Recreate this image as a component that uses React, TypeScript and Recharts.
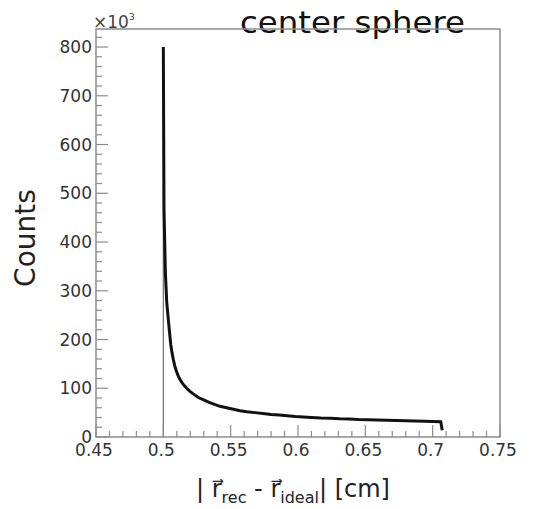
import { LineChart, Line, XAxis, YAxis, ReferenceArea } from 'recharts';

document.body.style.margin = '0';

// bin centres [cm] and counts (x10^3)
const binR = [
  0.5, 0.5005, 0.5015, 0.5025, 0.5035, 0.5045, 0.5055, 0.5065, 0.5075, 0.5085,
  0.5095, 0.5105, 0.512, 0.514, 0.516, 0.518, 0.52, 0.523, 0.526, 0.53,
  0.534, 0.538, 0.542, 0.547, 0.552, 0.557, 0.562, 0.568, 0.574, 0.58,
  0.586, 0.592, 0.598, 0.604, 0.61, 0.617, 0.624, 0.631, 0.638, 0.645,
  0.652, 0.659, 0.666, 0.673, 0.68, 0.687, 0.694, 0.7, 0.706, 0.7071,
];
const counts = [
  800, 467, 339, 277, 247, 218, 190, 172, 158, 146,
  137, 129, 120, 111, 104, 98, 93, 87, 81, 76,
  71, 67, 63, 60, 57, 54, 52, 50, 48, 46,
  45, 43.5, 42, 41, 40, 39, 38.5, 37.5, 37, 36,
  35.5, 35, 34.5, 34, 33.5, 33, 32.5, 32, 31.5, 14,
];

const xMajor = [0.45, 0.5, 0.55, 0.6, 0.65, 0.7, 0.75];
const yMajor = [0, 100, 200, 300, 400, 500, 600, 700, 800];
const yMax = 837;

const FRAME = '#8c8c8c';
const FONT = 'DejaVu Sans';

const histData = binR.map((r, i) => ({ r, n: counts[i] }));
const spikeData = [{ r: binR[0], n: 0 }, { r: binR[0], n: counts[0] }];

// 5 subdivisions between major ticks
const subdivide = (major: number[], step: number) => {
  const out: number[] = [];
  major.forEach((m) => {
    for (let k = 0; k < 5; k++) out.push(+(m + (k * step) / 5).toFixed(4));
  });
  return out;
};
const xTicks = subdivide(xMajor, 0.05).filter((v) => v <= 0.75);
const yTicks = subdivide(yMajor, 100).filter((v) => v <= yMax);

const isMajor = (v: number, list: number[]) => list.some((m) => Math.abs(m - v) < 1e-6);

function YTick({ x, y, payload }: any) {
  const major = isMajor(payload.value, yMajor);
  const ax = x + 4;
  return (
    <g>
      <line x1={ax} x2={ax + (major ? 12 : 6)} y1={y} y2={y} stroke={FRAME} strokeWidth={1.2} />
      {major && (
        <text x={x} y={y} dy={6} textAnchor="end" fontSize={17} fontFamily={FONT} fill="#333">
          {payload.value}
        </text>
      )}
    </g>
  );
}

function XTick({ x, y, payload }: any) {
  const major = isMajor(payload.value, xMajor);
  return (
    <g>
      <line x1={x} x2={x} y1={y} y2={y - (major ? 12 : 6)} stroke={FRAME} strokeWidth={1.2} />
      {major && (
        <text x={x - 2} y={y + 19} textAnchor="middle" fontSize={17} fontFamily={FONT} fill="#333">
          {String(payload.value)}
        </text>
      )}
    </g>
  );
}

function Texts() {
  return (
    <g fontFamily={FONT}>
      <text x={240} y={33} fontSize={30} fill="#111" textLength={225} lengthAdjust="spacingAndGlyphs">
        center sphere
      </text>
      <text x={93} y={28} fontSize={17} fill="#444">×10<tspan fontSize={9} dy={-8}>3</tspan></text>
      <text x={35} y={238} textAnchor="middle" fontSize={28} fill="#222" transform="rotate(-90 35 238)">Counts</text>
      <text x={293} y={497} textAnchor="middle" fontSize={24} fill="#222">
        | r⃗<tspan fontSize={16} dy={6}>rec</tspan>
        <tspan dy={-6}> - r⃗</tspan>
        <tspan fontSize={16} dy={6}>ideal</tspan>
        <tspan dy={-6}>| [cm]</tspan>
      </text>
    </g>
  );
}

export default function App() {
  return (
    <LineChart width={541} height={509} margin={{ top: 29, right: 41, left: 0, bottom: 0 }}>
      <XAxis
        type="number"
        dataKey="r"
        domain={[0.45, 0.75]}
        ticks={xTicks}
        interval={0}
        allowDataOverflow
        axisLine={false}
        tickLine={false}
        tickSize={0}
        tickMargin={0}
        height={72}
        tick={<XTick />}
      />
      <YAxis
        type="number"
        dataKey="n"
        domain={[0, yMax]}
        ticks={yTicks}
        interval={0}
        allowDataOverflow
        axisLine={false}
        tickLine={false}
        tickSize={0}
        tickMargin={4}
        width={96}
        tick={<YTick />}
      />
      <Line data={spikeData} dataKey="n" type="linear" stroke="#777" strokeWidth={1.3} dot={false} isAnimationActive={false} />
      <Line data={histData} dataKey="n" type="linear" stroke="#111" strokeWidth={3} dot={false} isAnimationActive={false} />
      <ReferenceArea x1={0.45} x2={0.75} y1={0} y2={yMax} fill="none" stroke={FRAME} strokeWidth={1.5} />
      <Texts />
    </LineChart>
  );
}
